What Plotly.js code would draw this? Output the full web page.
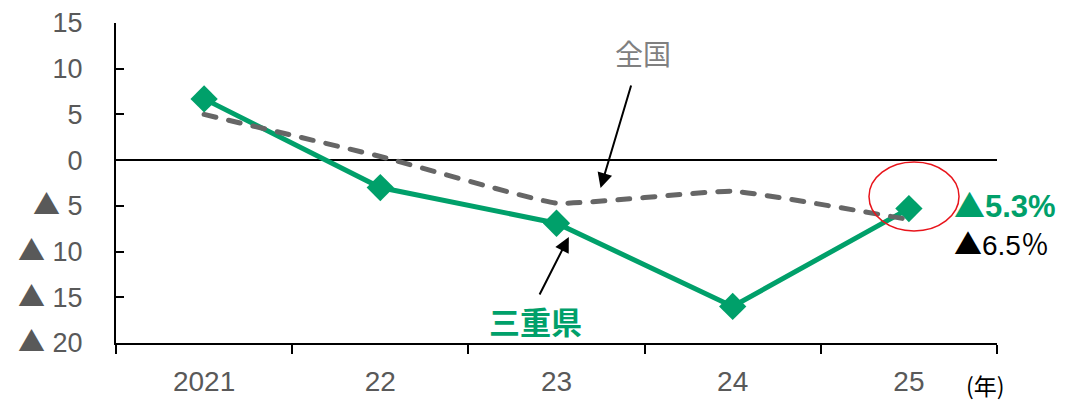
<!DOCTYPE html>
<html>
<head>
<meta charset="utf-8">
<script src="https://cdn.plot.ly/plotly-3.0.1.min.js"></script>
<style>
  html, body { margin: 0; padding: 0; background: #fff; }
  #chart { width: 1071px; height: 402px; }
  /* rounded dash ends on the national line */
  #chart .scatterlayer .trace:nth-child(2) .js-line { stroke-linecap: round; }
</style>
</head>
<body>
<div id="chart"></div>
<script>
// Year-on-year change (%), Mie Prefecture vs. national
const years = ['2021', '22', '23', '24', '25'];
const mieValues = [6.7, -3.0, -6.9, -16.0, -5.3];
const nationalValues = [5.0, 0.4, -4.7, -3.4, -6.5];

const yTickVals = [15, 10, 5, 0, -5, -10, -15, -20];

const GREEN = '#00A06A';
const GRAY = '#666666';
const LABEL = '#595959';
const FONT = 'Arial, "Liberation Sans", "Noto Sans CJK JP", sans-serif';
const CJK = '"Noto Sans CJK JP", sans-serif';

// negative numbers are written with a leading triangle
const cjkSpan = s => '<span style="font-family:\'Noto Sans CJK JP\'">' + s + '</span>';
const tri = cjkSpan('▲');
const yTickText = yTickVals.map(v => v < 0 ? tri + ' ' + Math.abs(v) : String(v));

const traces = [
  {
    x: years, y: mieValues, type: 'scatter', mode: 'lines+markers',
    line: { color: GREEN, width: 5 },
    marker: { symbol: 'diamond', size: 21, color: GREEN },
    hoverinfo: 'skip'
  },
  {
    x: years, y: nationalValues, type: 'scatter', mode: 'lines',
    line: { color: GRAY, width: 5, dash: '12px,13px', shape: 'spline', smoothing: 0.35 },
    hoverinfo: 'skip'
  }
];

const lastIdx = years.length - 1;
const fmtTri = v => tri + Math.abs(v).toFixed(1);

const layout = {
  width: 1071, height: 402,
  margin: { l: 116, r: 74, t: 23, b: 59 },
  paper_bgcolor: '#fff', plot_bgcolor: '#fff',
  showlegend: false,
  font: { family: FONT, color: LABEL },
  xaxis: {
    type: 'category', range: [-0.5, 4.5],
    showgrid: false, zeroline: false,
    showline: true, linecolor: '#000', linewidth: 2,
    ticks: 'outside', ticklen: 9, tickwidth: 2, tickcolor: '#000',
    tickson: 'boundaries',
    ticklabelstandoff: 12,
    tickfont: { size: 28, color: LABEL, family: FONT }
  },
  yaxis: {
    range: [-20, 15],
    tickvals: yTickVals, ticktext: yTickText,
    showgrid: false,
    zeroline: true, zerolinecolor: '#000', zerolinewidth: 1.5,
    showline: true, linecolor: '#000', linewidth: 2,
    ticks: 'inside', ticklen: 8, tickwidth: 2, tickcolor: '#000',
    ticklabelstandoff: 26,
    tickfont: { size: 27, color: LABEL, family: FONT }
  },
  shapes: [
    {
      type: 'circle', xref: 'paper', yref: 'paper',
      x0: 0.8547, x1: 0.9569, y0: 0.35, y1: 0.5656,
      line: { color: '#E8141B', width: 1.5 }
    }
  ],
  annotations: [
    // national label + arrow
    {
      xref: 'paper', yref: 'paper', x: 0.5982, y: 0.9063,
      xanchor: 'center', yanchor: 'middle',
      text: '全国', showarrow: false,
      font: { size: 28, color: '#808080', family: CJK }
    },
    {
      xref: 'x', yref: 'y', x: 2.25, y: -3.05,
      ax: 31, ay: -104, axref: 'pixel', ayref: 'pixel',
      text: '', showarrow: true, arrowhead: 2, arrowsize: 1.5, arrowwidth: 2, arrowcolor: '#000'
    },
    // Mie label + arrow
    {
      xref: 'paper', yref: 'paper', x: 0.4762, y: 0.0688,
      xanchor: 'center', yanchor: 'middle',
      text: '<b>三重県</b>', showarrow: false,
      font: { size: 31, color: GREEN, family: CJK }
    },
    {
      xref: 'x', yref: 'y', x: 2.07, y: -8.4,
      ax: -30, ay: 59, axref: 'pixel', ayref: 'pixel',
      text: '', showarrow: true, arrowhead: 2, arrowsize: 1.5, arrowwidth: 2, arrowcolor: '#000'
    },
    // latest values
    {
      xref: 'paper', yref: 'paper', x: 0.949, y: 0.437,
      xanchor: 'left', yanchor: 'middle',
      text: '<b>' + fmtTri(mieValues[lastIdx]) + '%</b>', showarrow: false,
      font: { size: 31, color: GREEN, family: FONT }
    },
    {
      xref: 'paper', yref: 'paper', x: 0.949, y: 0.313,
      xanchor: 'left', yanchor: 'middle',
      text: fmtTri(nationalValues[lastIdx]) + cjkSpan('％'), showarrow: false,
      font: { size: 28, color: '#000', family: FONT }
    },
    // unit
    {
      xref: 'paper', yref: 'paper', x: 0.962, y: -0.13,
      xanchor: 'left', yanchor: 'middle',
      text: '(年)', showarrow: false,
      font: { size: 23, color: '#000', family: CJK }
    }
  ]
};

Plotly.newPlot('chart', traces, layout, { staticPlot: true, displayModeBar: false });
</script>
</body>
</html>
